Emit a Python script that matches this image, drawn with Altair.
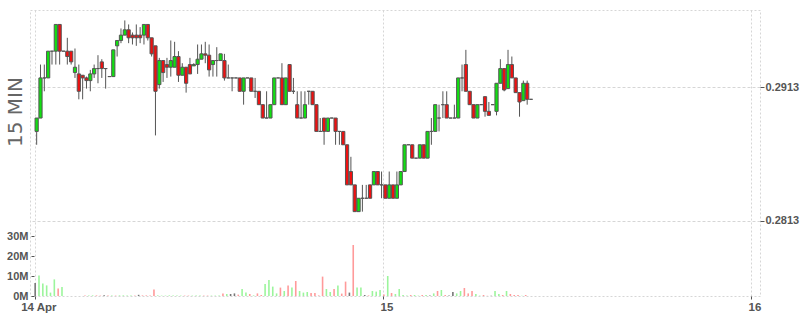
import altair as alt
import pandas as pd

# ---- 15-minute candles (price) ----
opens = [0.2880, 0.2890, 0.2920, 0.2920, 0.2940, 0.2940, 0.2960, 0.2940, 0.2940, 0.2940,
         0.2924, 0.2923, 0.2922, 0.2920, 0.2918, 0.2923, 0.2927, 0.2932, 0.2927, 0.2921,
         0.2921, 0.2944, 0.2948, 0.2952, 0.2956, 0.2952, 0.2952, 0.2952, 0.2952, 0.2960,
         0.2950, 0.2944, 0.2915, 0.2933, 0.2930, 0.2928, 0.2928, 0.2936, 0.2922, 0.2928,
         0.2930, 0.2929, 0.2930, 0.2934, 0.2938, 0.2937, 0.2930, 0.2933, 0.2933, 0.2933,
         0.2920, 0.2920, 0.2920, 0.2920, 0.2910, 0.2920, 0.2920, 0.2910, 0.2910, 0.2900,
         0.2890, 0.2890, 0.2900, 0.2920, 0.2920, 0.2900, 0.2930, 0.2910, 0.2900, 0.2890,
         0.2890, 0.2910, 0.2910, 0.2900, 0.2880, 0.2890, 0.2880, 0.2890, 0.2890, 0.2880,
         0.2880, 0.2870, 0.2850, 0.2840, 0.2820, 0.2830, 0.2830, 0.2840, 0.2840, 0.2850,
         0.2840, 0.2840, 0.2830, 0.2840, 0.2830, 0.2840, 0.2850, 0.2870, 0.2870, 0.2860,
         0.2860, 0.2870, 0.2860, 0.2880, 0.2880, 0.2890, 0.2900, 0.2900, 0.2890, 0.2890,
         0.2890, 0.2920, 0.2930, 0.2910, 0.2900, 0.2890, 0.2900, 0.2906, 0.2895, 0.2900,
         0.2895, 0.2916, 0.2927, 0.2912, 0.2930, 0.2920, 0.2909, 0.2903, 0.2916, 0.2904]
highs = [0.2890, 0.2930, 0.2930, 0.2940, 0.2940, 0.2960, 0.2960, 0.2940, 0.2950, 0.2940,
         0.2942, 0.2930, 0.2922, 0.2921, 0.2926, 0.2930, 0.2937, 0.2934, 0.2927, 0.2921,
         0.2941, 0.2948, 0.2957, 0.2963, 0.2960, 0.2954, 0.2960, 0.2958, 0.2960, 0.2960,
         0.2950, 0.2944, 0.2935, 0.2933, 0.2935, 0.2948, 0.2947, 0.2940, 0.2931, 0.2928,
         0.2935, 0.2931, 0.2945, 0.2945, 0.2947, 0.2945, 0.2933, 0.2943, 0.2938, 0.2938,
         0.2930, 0.2920, 0.2920, 0.2920, 0.2920, 0.2920, 0.2920, 0.2920, 0.2910, 0.2900,
         0.2910, 0.2900, 0.2920, 0.2920, 0.2931, 0.2920, 0.2930, 0.2920, 0.2910, 0.2910,
         0.2910, 0.2910, 0.2910, 0.2900, 0.2890, 0.2890, 0.2890, 0.2890, 0.2890, 0.2880,
         0.2880, 0.2870, 0.2861, 0.2840, 0.2830, 0.2840, 0.2840, 0.2840, 0.2850, 0.2850,
         0.2850, 0.2840, 0.2850, 0.2840, 0.2850, 0.2850, 0.2870, 0.2870, 0.2870, 0.2860,
         0.2870, 0.2870, 0.2880, 0.2890, 0.2900, 0.2900, 0.2910, 0.2910, 0.2890, 0.2900,
         0.2920, 0.2930, 0.2941, 0.2910, 0.2900, 0.2900, 0.2900, 0.2906, 0.2902, 0.2900,
         0.2916, 0.2934, 0.2927, 0.2941, 0.2936, 0.2920, 0.2909, 0.2918, 0.2918, 0.2904]
lows = [0.2870, 0.2890, 0.2910, 0.2920, 0.2930, 0.2930, 0.2930, 0.2940, 0.2930, 0.2930,
        0.2920, 0.2904, 0.2904, 0.2912, 0.2910, 0.2920, 0.2916, 0.2920, 0.2912, 0.2921,
        0.2921, 0.2936, 0.2946, 0.2952, 0.2946, 0.2945, 0.2944, 0.2946, 0.2945, 0.2948,
        0.2936, 0.2877, 0.2912, 0.2917, 0.2920, 0.2921, 0.2928, 0.2917, 0.2922, 0.2909,
        0.2923, 0.2929, 0.2923, 0.2934, 0.2931, 0.2921, 0.2921, 0.2921, 0.2933, 0.2918,
        0.2920, 0.2910, 0.2920, 0.2910, 0.2900, 0.2920, 0.2910, 0.2905, 0.2900, 0.2890,
        0.2890, 0.2890, 0.2900, 0.2920, 0.2900, 0.2900, 0.2910, 0.2908, 0.2890, 0.2890,
        0.2890, 0.2900, 0.2900, 0.2880, 0.2880, 0.2870, 0.2880, 0.2890, 0.2870, 0.2870,
        0.2870, 0.2840, 0.2840, 0.2820, 0.2820, 0.2820, 0.2830, 0.2830, 0.2840, 0.2840,
        0.2830, 0.2830, 0.2830, 0.2830, 0.2830, 0.2840, 0.2850, 0.2870, 0.2860, 0.2860,
        0.2860, 0.2860, 0.2860, 0.2870, 0.2880, 0.2880, 0.2890, 0.2890, 0.2890, 0.2890,
        0.2890, 0.2910, 0.2910, 0.2900, 0.2890, 0.2890, 0.2900, 0.2891, 0.2892, 0.2900,
        0.2892, 0.2916, 0.2910, 0.2912, 0.2920, 0.2909, 0.2891, 0.2903, 0.2900, 0.2904]
closes = [0.2890, 0.2920, 0.2920, 0.2940, 0.2940, 0.2960, 0.2940, 0.2940, 0.2936, 0.2932,
          0.2928, 0.2910, 0.2920, 0.2918, 0.2923, 0.2927, 0.2927, 0.2927, 0.2927, 0.2921,
          0.2941, 0.2948, 0.2952, 0.2956, 0.2950, 0.2950, 0.2950, 0.2950, 0.2960, 0.2950,
          0.2938, 0.2910, 0.2933, 0.2924, 0.2928, 0.2933, 0.2936, 0.2922, 0.2928, 0.2916,
          0.2923, 0.2930, 0.2934, 0.2938, 0.2937, 0.2926, 0.2933, 0.2933, 0.2938, 0.2920,
          0.2920, 0.2920, 0.2920, 0.2910, 0.2920, 0.2920, 0.2910, 0.2910, 0.2900, 0.2890,
          0.2890, 0.2900, 0.2920, 0.2920, 0.2900, 0.2920, 0.2910, 0.2910, 0.2890, 0.2890,
          0.2900, 0.2910, 0.2900, 0.2880, 0.2880, 0.2880, 0.2890, 0.2890, 0.2880, 0.2880,
          0.2870, 0.2840, 0.2840, 0.2820, 0.2830, 0.2830, 0.2830, 0.2830, 0.2850, 0.2840,
          0.2840, 0.2830, 0.2840, 0.2830, 0.2840, 0.2850, 0.2870, 0.2870, 0.2860, 0.2860,
          0.2870, 0.2860, 0.2880, 0.2880, 0.2900, 0.2890, 0.2900, 0.2890, 0.2890, 0.2890,
          0.2920, 0.2920, 0.2910, 0.2900, 0.2890, 0.2900, 0.2900, 0.2895, 0.2892, 0.2900,
          0.2916, 0.2927, 0.2911, 0.2930, 0.2920, 0.2909, 0.2902, 0.2916, 0.2904, 0.2904]

# ---- volume (millions) and bar colour class: g = up, r = down, k = flat ----
volumes_m = [6.5, 10.3, 6.3, 5.3, 1.7, 8.3, 3.8, 4.5, 0.0, 0.0,
             0.0, 0.0, 0.0, 0.2, 0.2, 0.3, 0.3, 0.2, 0.4, 0.2,
             0.3, 0.2, 0.3, 0.3, 0.2, 0.3, 0.2, 0.6, 0.3, 0.3,
             0.2, 3.3, 0.3, 0.2, 0.2, 0.3, 0.3, 0.2, 0.2, 0.2,
             0.2, 0.2, 0.2, 0.2, 0.2, 0.2, 0.2, 0.2, 0.3, 1.3,
             1.0, 1.0, 1.3, 0.7, 3.5, 1.8, 1.0, 0.3, 1.3, 0.5,
             6.0, 8.0, 4.7, 1.3, 4.2, 2.5, 5.2, 4.2, 7.5, 2.5,
             1.7, 2.0, 1.5, 1.5, 0.3, 9.7, 3.5, 2.0, 3.5, 5.2,
             1.2, 7.2, 1.7, 25.5, 4.2, 4.2, 0.5, 0.3, 2.5, 2.2,
             3.0, 0.7, 10.0, 1.5, 1.0, 3.5, 0.5, 0.2, 0.5, 0.5,
             0.2, 0.5, 0.5, 0.2, 1.3, 2.5, 3.0, 0.5, 0.2, 2.0,
             1.3, 2.5, 4.0, 1.3, 2.5, 1.0, 0.2, 0.5, 0.1, 0.1,
             2.5, 1.0, 0.5, 2.5, 1.0, 0.5, 0.5, 0.1, 0.5, 0.0]
vol_dir = ("k g g g g g r g g r "
           "g r r r g g r r k r "
           "g r g g g g r k r r "
           "r r g g g g g g g r "
           "r g g g r r g g g r "
           "g k k r g g r g r r "
           "g g g g r g r g r g "
           "g g r r r r g g r g "
           "r r k r g g k r g g "
           "g r g r g g g g r g "
           "g r g k g r g r k k "
           "g g r r r g g r r k "
           "g g r g r r r g r k").split()

times = pd.date_range("2023-04-14 01:22:30", periods=len(opens), freq="15min")
df = pd.DataFrame({
    "time": times,
    "open": opens,
    "high": highs,
    "low": lows,
    "close": closes,
    "volume": [v * 1e6 for v in volumes_m],
    "dir": vol_dir,
})

FONT = "Liberation Sans"
LABEL = "#555555"
GRID = "#d6d6d6"

x_scale = alt.Scale(domain=[
    alt.DateTime(year=2023, month=4, date=14, hours=1, minutes=16),
    alt.DateTime(year=2023, month=4, date=16, hours=0, minutes=14, seconds=12),
])
x_axis = alt.Axis(
    values=[
        alt.DateTime(year=2023, month=4, date=14, hours=1, minutes=17, seconds=30),
        alt.DateTime(year=2023, month=4, date=15),
        alt.DateTime(year=2023, month=4, date=16),
    ],
    labelExpr="date(datum.value) == 14 ? '14 Apr' : '' + date(datum.value)",
    title=None, grid=True, gridColor=GRID, gridDash=[2, 2], domain=False,
    tickSize=3, tickColor=LABEL, labelFont=FONT, labelFontWeight="bold",
    labelFontSize=11.5, labelColor=LABEL, labelOffset=3, labelPadding=2,
    labelFlush=False, labelOverlap=False,
)
x_enc = alt.X("time:T", scale=x_scale, axis=x_axis)

price_scale = alt.Scale(domain=[0.27569, 0.29708], nice=False, zero=False)
price_axis = alt.Axis(
    orient="right", values=[0.2813, 0.2913], format=".4f", title=None,
    grid=True, gridColor=GRID, gridDash=[3, 2], domain=False,
    tickSize=4, tickColor=LABEL, labelPadding=1, labelFont=FONT,
    labelFontWeight="bold", labelFontSize=11, labelColor=LABEL,
)

wicks = alt.Chart(df).mark_rule(color="#555555", strokeWidth=1).encode(
    x=x_enc,
    y=alt.Y("low:Q", scale=price_scale, axis=price_axis),
    y2="high:Q",
)
bodies = alt.Chart(df).mark_bar(size=3.2, stroke="#555555", strokeWidth=1).encode(
    x=x_enc,
    y=alt.Y("open:Q", scale=price_scale, axis=price_axis),
    y2="close:Q",
    fill=alt.condition("datum.close >= datum.open", alt.value("#11e011"), alt.value("#ee1111")),
)
price = alt.layer(wicks, bodies)

volume = alt.Chart(df).mark_bar(size=1.6, xOffset=-1.5).encode(
    x=x_enc,
    y=alt.Y("volume:Q", scale=alt.Scale(domain=[0, 143e6], nice=False),
            axis=alt.Axis(orient="left", values=[0, 1e7, 2e7, 3e7],
                          labelExpr="(datum.value / 1000000) + 'M'",
                          title=None, grid=False, domain=False, offset=-4,
                          tickSize=3, tickColor=LABEL, labelPadding=3,
                          labelFont=FONT, labelFontWeight="bold",
                          labelFontSize=11, labelColor=LABEL)),
    color=alt.Color("dir:N", legend=None,
                    scale=alt.Scale(domain=["g", "r", "k"],
                                    range=["#9cf59c", "#ff9a9a", "#777777"])),
)

title_df = pd.DataFrame({"label": ["15 MIN"]})
title = alt.Chart(title_df).mark_text(
    angle=270, fontSize=20, font="DejaVu Sans", color="#666666", align="center", baseline="middle"
).encode(x=alt.value(-14), y=alt.value(102), text="label:N")

chart = alt.layer(volume, price, title).resolve_scale(y="independent").properties(
    width=730, height=286,
    autosize=alt.AutoSizeParams(type="none"),
    padding={"left": 30, "right": 40, "top": 10, "bottom": 19},
).configure_view(stroke=GRID, strokeDash=[2, 2])

chart.save("out.html", embed_options={"renderer": "svg", "actions": False})
